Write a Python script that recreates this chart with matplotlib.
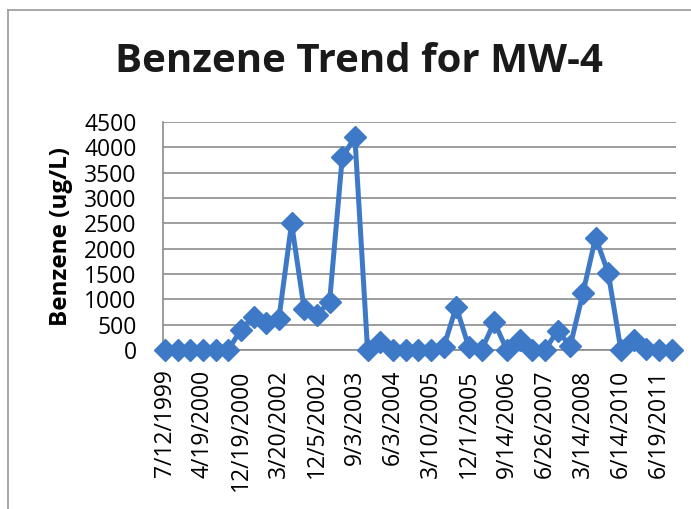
import matplotlib
matplotlib.use("Agg")
import matplotlib.pyplot as plt
from matplotlib.lines import Line2D

# benzene readings, one per sampling event (category axis)
benzene = [0, 0, 0, 0, 0, 0, 400, 660, 530, 620,
           2500, 800, 700, 950, 3800, 4200, 0, 150, 0, 0,
           0, 0, 50, 850, 50, 0, 550, 0, 200, 0,
           0, 380, 80, 1120, 2220, 1520, 0, 200, 20, 0,
           0]

tick_labels = ["7/12/1999", "4/19/2000", "12/19/2000", "3/20/2002", "12/5/2002",
               "9/3/2003", "6/3/2004", "3/10/2005", "12/1/2005", "9/14/2006",
               "6/26/2007", "3/14/2008", "6/14/2010", "6/19/2011"]
label_step = 3

y_ticks = [0, 500, 1000, 1500, 2000, 2500, 3000, 3500, 4000, 4500]

plt.rcParams['font.family'] = ['Open Sans', 'DejaVu Sans']

fig = plt.figure(figsize=(6.91, 5.09), dpi=100)
ax = fig.add_axes([163/691, 1 - 350/509, (676 - 163)/691, (350 - 122)/509])

blue = "#3D79C6"
x = list(range(len(benzene)))
ax.plot(x, benzene, color=blue, linewidth=3.6, marker="D", markersize=11.5,
        markerfacecolor=blue, markeredgecolor=blue, clip_on=False, zorder=3)

ax.set_xlim(-0.15, len(benzene) - 1 + 0.35)
ax.set_ylim(0, 4500)
ax.set_yticks(y_ticks)
ax.set_yticklabels([str(v) for v in y_ticks], fontsize=16.5)
ax.set_xticks(x[::label_step])
ax.set_xticklabels(tick_labels, rotation=90, fontsize=16.5)
ax.tick_params(axis="y", length=0, pad=19)
ax.tick_params(axis="x", length=0, pad=14)

ax.grid(axis="y", color="#8C8C8C", linewidth=1.2)
ax.set_axisbelow(True)
for s in ["top", "right"]:
    ax.spines[s].set_visible(False)
ax.spines["left"].set_color("#8C8C8C")
ax.spines["bottom"].set_color("#8C8C8C")
ax.spines["left"].set_linewidth(1.2)
ax.spines["bottom"].set_linewidth(1.2)

fig.text(61/691, 1 - 237/509, "Benzene (ug/L)", fontsize=17.5, fontweight="bold",
         rotation=90, ha="center", va="center")

fig.text(359/691, 1 - 62/509, "Benzene Trend for MW-4", fontsize=29,
         fontweight="bold", ha="center", va="center", color="#1A1A1A")

# outer chart frame (top and left edges visible in the scan)
fig.add_artist(Line2D([8/691, 1], [1 - 10/509, 1 - 10/509], color="#9A9A9A", linewidth=1.2))
fig.add_artist(Line2D([8/691, 8/691], [0, 1 - 10/509], color="#9A9A9A", linewidth=1.2))

fig.savefig("out.png", dpi=100, facecolor="white")
